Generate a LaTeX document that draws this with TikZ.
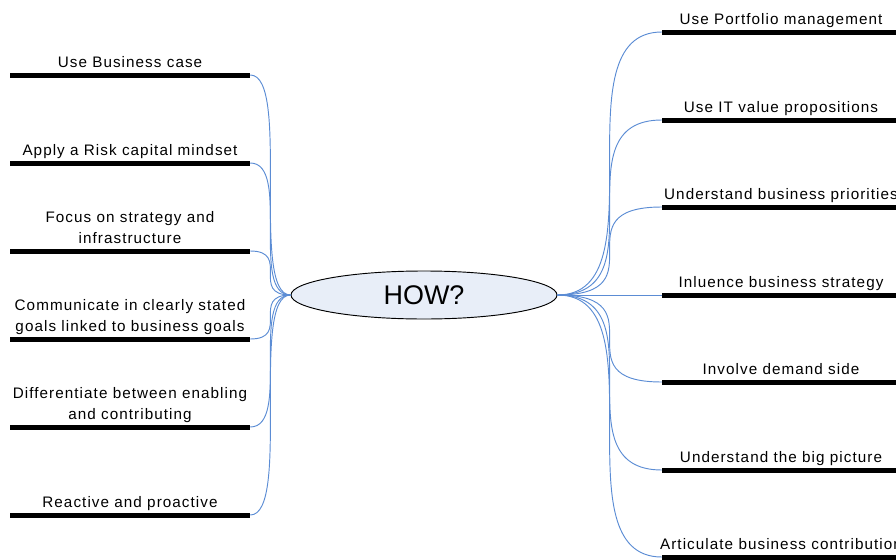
\documentclass[tikz,border=0pt]{standalone}
\usepackage{fontspec}
\setmainfont{Liberation Sans}
\newfontfamily\branchfont[LetterSpace=7]{Liberation Sans}
\usetikzlibrary{positioning,shapes.geometric}
\definecolor{linkblue}{HTML}{5B8CD4}
\definecolor{hubfill}{HTML}{E8EEF8}

\begin{document}
\begin{tikzpicture}[x=0.03cm, y=-0.03cm,
  hub/.style={draw=black, ellipse, fill=hubfill, thick,
              minimum width=7.98cm, minimum height=1.44cm, inner sep=0pt,
              font=\fontsize{23}{26}\selectfont},
  bar/.style={fill=black, inner sep=0pt, minimum width=7.2cm,
              minimum height=0.15cm},
  rbar/.style={bar, minimum width=7.14cm},
  lbl/.style={align=center, inner sep=0pt,
              font=\branchfont\fontsize{13}{17.9}\selectfont,
              execute at end node=\strut},
  link/.style={draw=linkblue, line width=0.8pt},
]
\useasboundingbox (0,0) rectangle (896,560);

% Centre
\node[hub] (how) at (424,295) {HOW?};

% Left bars
\node[bar] (b1) at (130,75) {};
\node[bar] (b2) at (130,163) {};
\node[bar] (b3) at (130,251) {};
\node[bar] (b4) at (130,339) {};
\node[bar] (b5) at (130,427) {};
\node[bar] (b6) at (130,515) {};

\node[lbl, above=-0.05cm of b1] (t1) {Use Business case};
\node[lbl, above=-0.05cm of b2] (t2) {Apply a Risk capital mindset};
\node[lbl, above=-0.05cm of b3] (t3) {Focus on strategy and\\infrastructure};
\node[lbl, above=-0.05cm of b4] (t4) {Communicate in clearly stated\\goals linked to business goals};
\node[lbl, above=-0.05cm of b5] (t5) {Differentiate between enabling\\and contributing};
\node[lbl, above=-0.05cm of b6] (t6) {Reactive and proactive};

% Right bars
\node[rbar] (r1) at (781,32) {};
\node[rbar] (r2) at (781,120) {};
\node[rbar] (r3) at (781,207) {};
\node[rbar] (r4) at (781,295) {};
\node[rbar] (r5) at (781,382) {};
\node[rbar] (r6) at (781,470) {};
\node[rbar] (r7) at (781,557) {};

\node[lbl, above=-0.05cm of r1] (u1) {Use Portfolio management};
\node[lbl, above=-0.05cm of r2] (u2) {Use IT value propositions};
\node[lbl, above=-0.05cm of r3] (u3) {Understand business priorities};
\node[lbl, above=-0.05cm of r4] (u4) {Inluence business strategy};
\node[lbl, above=-0.05cm of r5] (u5) {Involve demand side};
\node[lbl, above=-0.05cm of r6] (u6) {Understand the big picture};
\node[lbl, above=-0.05cm of r7] (u7) {Articulate business contribution};

% Left links
\draw[link] (b1.east) .. controls +(41,0) and +(-41,0) .. (how.west);
\draw[link] (b2.east) .. controls +(41,0) and +(-41,0) .. (how.west);
\draw[link] (b3.east) .. controls +(41,0) and +(-41,0) .. (how.west);
\draw[link] (b4.east) .. controls +(41,0) and +(-41,0) .. (how.west);
\draw[link] (b5.east) .. controls +(41,0) and +(-41,0) .. (how.west);
\draw[link] (b6.east) .. controls +(41,0) and +(-41,0) .. (how.west);

% Right links
\draw[link] (r1.west) .. controls +(-105,0) and +(105,0) .. (how.east);
\draw[link] (r2.west) .. controls +(-105,0) and +(105,0) .. (how.east);
\draw[link] (r3.west) .. controls +(-105,0) and +(105,0) .. (how.east);
\draw[link] (r4.west) -- (how.east);
\draw[link] (r5.west) .. controls +(-105,0) and +(105,0) .. (how.east);
\draw[link] (r6.west) .. controls +(-105,0) and +(105,0) .. (how.east);
\draw[link] (r7.west) .. controls +(-105,0) and +(105,0) .. (how.east);

\end{tikzpicture}
\end{document}
